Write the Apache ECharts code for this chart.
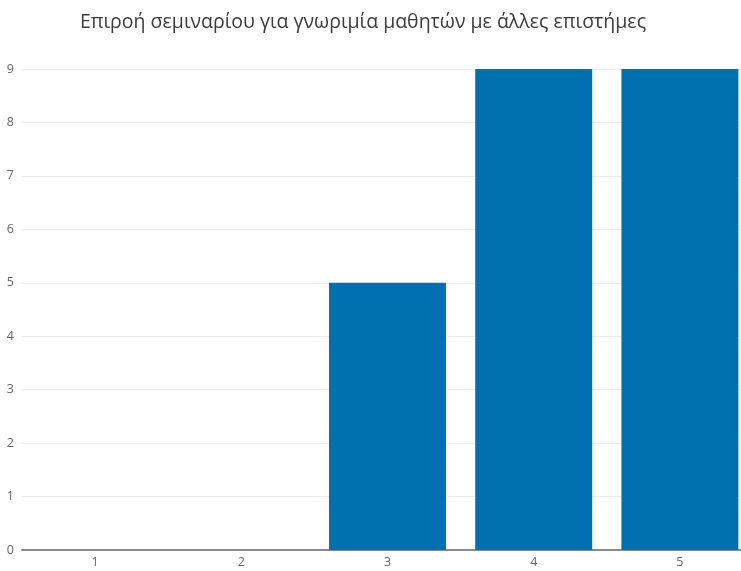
<!DOCTYPE html>
<html>
<head>
<meta charset="utf-8">
<script src="https://cdn.jsdelivr.net/npm/echarts@6/dist/echarts.min.js"></script>
<style>
  html, body { margin: 0; padding: 0; background: #fff; overflow: hidden; width: 741px; height: 571px; }
  /* the canvas is a little wider than the window, so the last bar meets the right edge */
  #chart { width: 753px; height: 571px; }
</style>
</head>
<body>
<div id="chart"></div>
<script>
// Survey responses: rating scale 1–5 and number of answers per rating
const categories = ['1', '2', '3', '4', '5'];
const counts = [0, 0, 5, 9, 9];
const yTicks = [0, 1, 2, 3, 4, 5, 6, 7, 8, 9];
const titleText = 'Επιροή σεμιναρίου για γνωριμία μαθητών με άλλες επιστήμες';

const chart = echarts.init(document.getElementById('chart'));
chart.setOption({
  animation: false,
  textStyle: { fontFamily: 'Open Sans' },
  title: {
    text: titleText,
    left: 358,
    textAlign: 'center',
    top: 7,
    textStyle: { fontFamily: 'Open Sans', fontSize: 19.5, fontWeight: 'normal', color: '#3c3c3c' }
  },
  grid: { left: 22, right: 0, top: 69, bottom: 21, containLabel: false },
  xAxis: {
    type: 'category',
    data: categories,
    axisLine: { lineStyle: { color: '#8a8a8a', width: 2 } },
    axisTick: { show: false },
    axisLabel: { color: '#666', fontSize: 12.5, margin: 6 }
  },
  yAxis: {
    type: 'value',
    min: yTicks[0],
    max: yTicks[yTicks.length - 1],
    interval: 1,
    axisLine: { show: false },
    axisTick: { show: false },
    axisLabel: { color: '#666', fontSize: 12.5, margin: 8 },
    splitLine: { lineStyle: { color: '#ececec', width: 1 } }
  },
  series: [{
    type: 'bar',
    data: counts,
    barCategoryGap: '20%',
    itemStyle: { color: '#0070b0' }
  }]
});
</script>
</body>
</html>
